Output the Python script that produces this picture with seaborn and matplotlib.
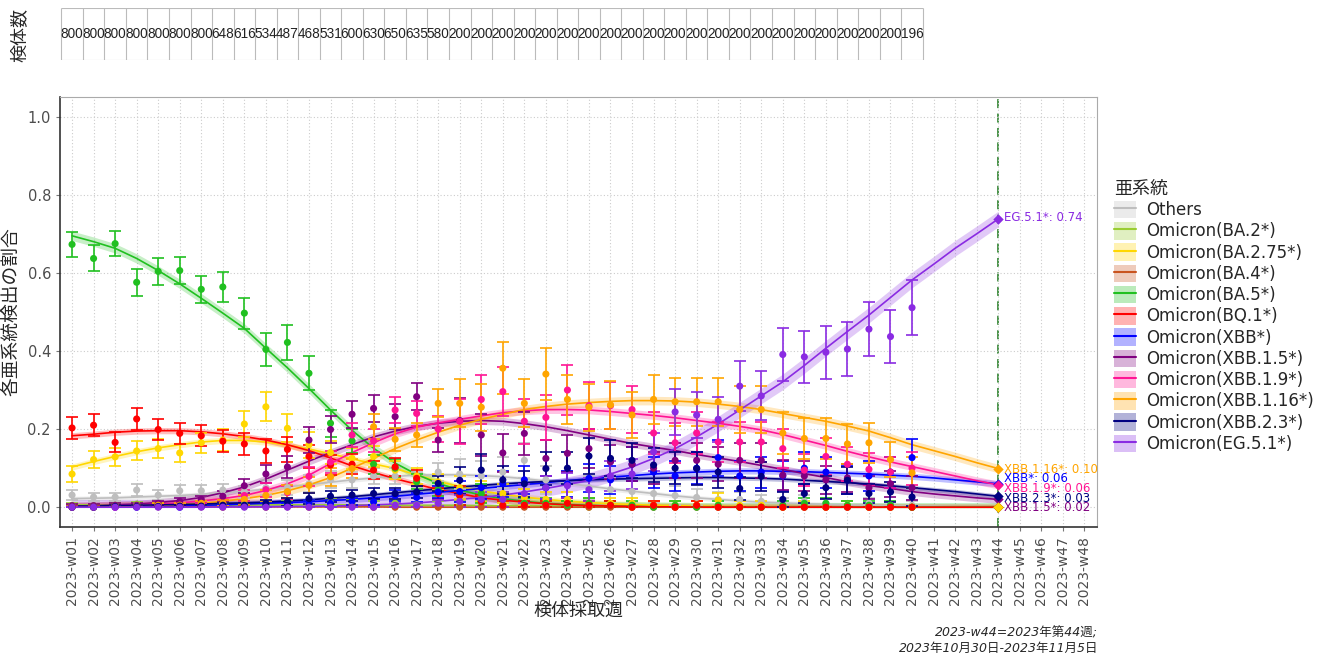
import numpy as np
import pandas as pd
import matplotlib
matplotlib.use('Agg')
import matplotlib.pyplot as plt
from matplotlib.patches import Patch
from matplotlib.lines import Line2D
import seaborn as sns

sns.set_style('white')
plt.rcParams['font.family'] = ['DejaVu Sans', 'Noto Sans CJK JP']

# --- data ---------------------------------------------------------------
week_labels = ['2023-w%02d' % i for i in range(1, 49)]

n_samples = [800, 800, 800, 800, 800, 800, 800, 648, 616, 534, 487, 468, 531, 600,
             630, 650, 635, 580, 200, 200, 200, 200, 200, 200, 200, 200, 200, 200,
             200, 200, 200, 200, 200, 200, 200, 200, 200, 200, 200, 196]

lineages = ['Others', 'Omicron(BA.2*)', 'Omicron(BA.2.75*)', 'Omicron(BA.4*)',
            'Omicron(BA.5*)', 'Omicron(BQ.1*)', 'Omicron(XBB*)', 'Omicron(XBB.1.5*)',
            'Omicron(XBB.1.9*)', 'Omicron(XBB.1.16*)', 'Omicron(XBB.2.3*)', 'Omicron(EG.5.1*)']

# observed weekly proportions (w01-w40)
others_pts = [0.031, 0.026, 0.026, 0.044, 0.031, 0.042, 0.042, 0.044, 0.040, 0.050,
              0.050, 0.060, 0.070, 0.070, 0.080, 0.080, 0.070, 0.090, 0.085, 0.080,
              0.090, 0.120, 0.070, 0.060, 0.050, 0.045, 0.040, 0.035, 0.030, 0.025,
              0.020, 0.020, 0.015, 0.010, 0.015, 0.010, 0.005, 0.010, 0.005, 0.005]
ba2_pts = [0.005, 0.004, 0.005, 0.008, 0.006, 0.004, 0.005, 0.005, 0.008, 0.006,
           0.010, 0.009, 0.012, 0.010, 0.008, 0.010, 0.006, 0.008, 0.005, 0.005,
           0.005, 0.010, 0.005, 0.005, 0.000, 0.005, 0.000, 0.005, 0.000, 0.005,
           0.000, 0.000, 0.000, 0.000, 0.000, 0.000, 0.000, 0.000, 0.000, 0.000]
ba275_pts = [0.085, 0.122, 0.129, 0.144, 0.150, 0.139, 0.165, 0.172, 0.213, 0.257,
             0.202, 0.160, 0.140, 0.125, 0.130, 0.095, 0.080, 0.065, 0.050, 0.040,
             0.035, 0.025, 0.020, 0.020, 0.010, 0.010, 0.010, 0.005, 0.005, 0.005,
             0.018, 0.005, 0.005, 0.000, 0.005, 0.000, 0.005, 0.000, 0.000, 0.000]
ba4_pts = [0.002, 0.001, 0.002, 0.001, 0.001, 0.002, 0.001, 0.000, 0.002, 0.000,
           0.001, 0.000, 0.000, 0.002, 0.000, 0.000, 0.000, 0.000, 0.000, 0.000,
           0.000, 0.000, 0.000, 0.000, 0.000, 0.000, 0.000, 0.000, 0.000, 0.000,
           0.000, 0.000, 0.000, 0.000, 0.000, 0.000, 0.000, 0.000, 0.000, 0.000]
ba5_pts = [0.673, 0.637, 0.675, 0.576, 0.604, 0.606, 0.558, 0.564, 0.497, 0.404,
           0.422, 0.343, 0.215, 0.170, 0.110, 0.100, 0.065, 0.045, 0.030, 0.035,
           0.020, 0.010, 0.010, 0.005, 0.010, 0.005, 0.005, 0.000, 0.005, 0.000,
           0.005, 0.000, 0.000, 0.005, 0.010, 0.010, 0.005, 0.005, 0.005, 0.000]
bq1_pts = [0.203, 0.210, 0.166, 0.226, 0.199, 0.189, 0.183, 0.169, 0.162, 0.144,
           0.148, 0.130, 0.108, 0.110, 0.095, 0.103, 0.074, 0.035, 0.030, 0.014,
           0.005, 0.005, 0.005, 0.010, 0.005, 0.005, 0.000, 0.005, 0.000, 0.005,
           0.000, 0.000, 0.000, 0.000, 0.000, 0.000, 0.000, 0.000, 0.000, 0.000]
xbb_pts = [0.000, 0.000, 0.000, 0.000, 0.002, 0.000, 0.002, 0.002, 0.003, 0.005,
           0.005, 0.010, 0.010, 0.015, 0.014, 0.030, 0.025, 0.039, 0.040, 0.050,
           0.060, 0.070, 0.050, 0.060, 0.074, 0.070, 0.110, 0.090, 0.080, 0.100,
           0.127, 0.080, 0.090, 0.080, 0.100, 0.090, 0.070, 0.080, 0.090, 0.127]
xbb15_pts = [0.004, 0.004, 0.005, 0.005, 0.010, 0.015, 0.020, 0.028, 0.055, 0.085,
             0.103, 0.172, 0.199, 0.238, 0.253, 0.232, 0.283, 0.172, 0.222, 0.185,
             0.139, 0.189, 0.125, 0.138, 0.150, 0.116, 0.110, 0.100, 0.120, 0.120,
             0.110, 0.120, 0.120, 0.082, 0.080, 0.070, 0.075, 0.050, 0.060, 0.050]
xbb19_pts = [0.000, 0.000, 0.000, 0.002, 0.002, 0.005, 0.005, 0.010, 0.030, 0.045,
             0.037, 0.079, 0.116, 0.185, 0.170, 0.249, 0.240, 0.200, 0.220, 0.276,
             0.296, 0.220, 0.230, 0.300, 0.260, 0.260, 0.250, 0.190, 0.165, 0.190,
             0.167, 0.167, 0.167, 0.150, 0.095, 0.130, 0.110, 0.097, 0.090, 0.100]
xbb116_pts = [0.000, 0.000, 0.002, 0.002, 0.005, 0.005, 0.010, 0.010, 0.020, 0.030,
              0.040, 0.056, 0.078, 0.099, 0.206, 0.174, 0.185, 0.266, 0.266, 0.256,
              0.356, 0.266, 0.341, 0.276, 0.256, 0.262, 0.236, 0.276, 0.270, 0.270,
              0.270, 0.250, 0.250, 0.190, 0.176, 0.176, 0.162, 0.165, 0.122, 0.088]
xbb23_pts = [0.000, 0.000, 0.002, 0.002, 0.002, 0.003, 0.003, 0.005, 0.005, 0.010,
             0.014, 0.022, 0.028, 0.031, 0.035, 0.035, 0.039, 0.061, 0.069, 0.095,
             0.070, 0.060, 0.099, 0.100, 0.131, 0.125, 0.120, 0.108, 0.100, 0.099,
             0.090, 0.048, 0.079, 0.020, 0.035, 0.050, 0.069, 0.035, 0.039, 0.026]
eg51_pts = [0.000, 0.000, 0.000, 0.000, 0.000, 0.000, 0.000, 0.000, 0.000, 0.000,
            0.000, 0.000, 0.000, 0.000, 0.000, 0.005, 0.005, 0.010, 0.015, 0.020,
            0.020, 0.035, 0.050, 0.055, 0.045, 0.080, 0.085, 0.142, 0.244, 0.236,
            0.225, 0.310, 0.285, 0.391, 0.385, 0.397, 0.405, 0.456, 0.437, 0.511]

# fitted proportions (w01-w44)
others_fit = [0.022, 0.023, 0.024, 0.026, 0.028, 0.030, 0.033, 0.037, 0.041, 0.046,
              0.052, 0.058, 0.064, 0.070, 0.075, 0.079, 0.082, 0.083, 0.083, 0.081,
              0.078, 0.073, 0.067, 0.061, 0.054, 0.047, 0.041, 0.035, 0.029, 0.024,
              0.020, 0.016, 0.013, 0.011, 0.009, 0.007, 0.006, 0.005, 0.004, 0.003,
              0.003, 0.002, 0.002, 0.001]
ba2_fit = [0.006, 0.006, 0.006, 0.006, 0.006, 0.006, 0.006, 0.006, 0.006, 0.006,
           0.006, 0.006, 0.006, 0.006, 0.006, 0.005, 0.005, 0.005, 0.005, 0.004,
           0.004, 0.004, 0.003, 0.003, 0.003, 0.002, 0.002, 0.002, 0.002, 0.001,
           0.001, 0.001, 0.001, 0.001, 0.001, 0.001, 0.000, 0.000, 0.000, 0.000,
           0.000, 0.000, 0.000, 0.000]
ba275_fit = [0.103, 0.117, 0.130, 0.142, 0.152, 0.160, 0.167, 0.171, 0.171, 0.167,
             0.159, 0.149, 0.137, 0.124, 0.111, 0.099, 0.083, 0.066, 0.053, 0.042,
             0.033, 0.026, 0.020, 0.015, 0.012, 0.009, 0.007, 0.005, 0.004, 0.003,
             0.002, 0.002, 0.001, 0.001, 0.001, 0.000, 0.000, 0.000, 0.000, 0.000,
             0.000, 0.000, 0.000, 0.000]
ba4_fit = [0.002, 0.002, 0.002, 0.002, 0.002, 0.002, 0.001, 0.001, 0.001, 0.001,
           0.001, 0.001, 0.001, 0.001, 0.001, 0.000, 0.000, 0.000, 0.000, 0.000,
           0.000, 0.000, 0.000, 0.000, 0.000, 0.000, 0.000, 0.000, 0.000, 0.000,
           0.000, 0.000, 0.000, 0.000, 0.000, 0.000, 0.000, 0.000, 0.000, 0.000,
           0.000, 0.000, 0.000, 0.000]
ba5_fit = [0.695, 0.680, 0.663, 0.637, 0.606, 0.572, 0.535, 0.497, 0.458, 0.407,
           0.357, 0.304, 0.249, 0.197, 0.151, 0.113, 0.084, 0.061, 0.044, 0.031,
           0.022, 0.015, 0.010, 0.007, 0.005, 0.003, 0.002, 0.001, 0.001, 0.000,
           0.000, 0.000, 0.000, 0.000, 0.000, 0.000, 0.000, 0.000, 0.000, 0.000,
           0.000, 0.000, 0.000, 0.000]
bq1_fit = [0.183, 0.187, 0.192, 0.195, 0.196, 0.196, 0.193, 0.188, 0.181, 0.172,
           0.160, 0.145, 0.126, 0.106, 0.089, 0.073, 0.059, 0.045, 0.035, 0.024,
           0.018, 0.013, 0.009, 0.006, 0.004, 0.003, 0.002, 0.001, 0.001, 0.000,
           0.000, 0.000, 0.000, 0.000, 0.000, 0.000, 0.000, 0.000, 0.000, 0.000,
           0.000, 0.000, 0.000, 0.000]
xbb_fit = [0.001, 0.001, 0.002, 0.002, 0.003, 0.004, 0.005, 0.006, 0.008, 0.010,
           0.012, 0.014, 0.017, 0.020, 0.024, 0.028, 0.033, 0.038, 0.043, 0.048,
           0.053, 0.058, 0.063, 0.068, 0.073, 0.077, 0.081, 0.085, 0.088, 0.090,
           0.092, 0.093, 0.093, 0.092, 0.091, 0.089, 0.087, 0.085, 0.082, 0.079,
           0.075, 0.070, 0.065, 0.060]
xbb15_fit = [0.003, 0.004, 0.006, 0.008, 0.012, 0.017, 0.025, 0.037, 0.052, 0.072,
             0.095, 0.118, 0.140, 0.160, 0.180, 0.195, 0.207, 0.215, 0.220, 0.222,
             0.220, 0.214, 0.206, 0.196, 0.185, 0.174, 0.163, 0.154, 0.145, 0.135,
             0.126, 0.117, 0.107, 0.097, 0.086, 0.076, 0.065, 0.056, 0.048, 0.040,
             0.034, 0.029, 0.024, 0.020]
xbb19_fit = [0.002, 0.003, 0.004, 0.005, 0.008, 0.011, 0.016, 0.022, 0.030, 0.043,
             0.060, 0.082, 0.112, 0.140, 0.165, 0.188, 0.205, 0.216, 0.225, 0.234,
             0.242, 0.247, 0.250, 0.250, 0.249, 0.245, 0.240, 0.235, 0.229, 0.222,
             0.215, 0.207, 0.198, 0.186, 0.172, 0.158, 0.143, 0.129, 0.116, 0.104,
             0.092, 0.080, 0.068, 0.057]
xbb116_fit = [0.002, 0.002, 0.003, 0.004, 0.005, 0.007, 0.010, 0.015, 0.022, 0.030,
              0.042, 0.057, 0.076, 0.100, 0.125, 0.150, 0.172, 0.192, 0.210, 0.225,
              0.238, 0.250, 0.258, 0.264, 0.268, 0.271, 0.273, 0.273, 0.272, 0.269,
              0.264, 0.258, 0.250, 0.240, 0.230, 0.220, 0.208, 0.195, 0.178, 0.160,
              0.145, 0.130, 0.114, 0.099]
xbb23_fit = [0.003, 0.003, 0.004, 0.005, 0.006, 0.007, 0.008, 0.010, 0.011, 0.013,
             0.016, 0.019, 0.023, 0.027, 0.032, 0.037, 0.042, 0.047, 0.052, 0.056,
             0.060, 0.063, 0.066, 0.068, 0.070, 0.072, 0.073, 0.074, 0.075, 0.076,
             0.076, 0.075, 0.074, 0.072, 0.069, 0.066, 0.063, 0.059, 0.055, 0.050,
             0.045, 0.040, 0.034, 0.028]
eg51_fit = [0.000, 0.000, 0.000, 0.000, 0.000, 0.000, 0.000, 0.001, 0.001, 0.001,
            0.002, 0.002, 0.003, 0.004, 0.006, 0.008, 0.011, 0.015, 0.020, 0.025,
            0.031, 0.039, 0.048, 0.058, 0.069, 0.085, 0.103, 0.125, 0.150, 0.180,
            0.213, 0.249, 0.285, 0.321, 0.363, 0.407, 0.450, 0.492, 0.537, 0.582,
            0.622, 0.663, 0.700, 0.738]

pts = [others_pts, ba2_pts, ba275_pts, ba4_pts, ba5_pts, bq1_pts, xbb_pts,
       xbb15_pts, xbb19_pts, xbb116_pts, xbb23_pts, eg51_pts]
fits = [others_fit, ba2_fit, ba275_fit, ba4_fit, ba5_fit, bq1_fit, xbb_fit,
        xbb15_fit, xbb19_fit, xbb116_fit, xbb23_fit, eg51_fit]

colors = ['#BEBEBE', '#9ACD32', '#FFD700', '#C9541F', '#20C020', '#FF0000', '#0000FF',
          '#800080', '#FF1493', '#FFA500', '#000080', '#8A2BE2']
band_hw = [0.006, 0.003, 0.008, 0.002, 0.012, 0.008, 0.008, 0.010, 0.010, 0.011, 0.006, 0.020]

# end labels: short name and text y-position
end_labels = {'Omicron(EG.5.1*)': ('EG.5.1*', 0.741),
              'Omicron(XBB.1.16*)': ('XBB.1.16*', 0.097),
              'Omicron(XBB*)': ('XBB*', 0.074),
              'Omicron(XBB.1.9*)': ('XBB.1.9*', 0.047),
              'Omicron(XBB.2.3*)': ('XBB.2.3*', 0.022),
              'Omicron(XBB.1.5*)': ('XBB.1.5*', 0.000)}

for p, f in zip(pts, fits):
    assert len(p) == len(n_samples) and len(f) == 44

palette = dict(zip(lineages, colors))
n_obs = len(n_samples)
n_fit = len(fits[0])

pts_df = pd.DataFrame({'week': np.tile(np.arange(n_obs), len(lineages)),
                       'prop': np.concatenate(pts),
                       'n': np.tile(n_samples, len(lineages)),
                       'lineage': np.repeat(lineages, n_obs)})
fit_df = pd.DataFrame({'week': np.tile(np.arange(n_fit), len(lineages)),
                       'fit': np.concatenate(fits),
                       'lineage': np.repeat(lineages, n_fit)})
# 95% binomial interval
se = np.sqrt(pts_df['prop'] * (1 - pts_df['prop']) / pts_df['n'])
pts_df['lo'] = (pts_df['prop'] - 1.96 * se).clip(lower=0)
pts_df['hi'] = (pts_df['prop'] + 1.96 * se).clip(upper=1)

# --- figure -------------------------------------------------------------
fig = plt.figure(figsize=(13.36, 6.54), dpi=100)
ax = fig.add_axes([0.0449, 0.194, 0.7764, 0.658])
tab = fig.add_axes([0.0449, 0.9083, 0.7764, 0.0795])

xlim = (-0.56, 47.6)

# bands
for name, f, hw in zip(lineages, fits, band_hw):
    f = np.array(f)
    ax.fill_between(np.arange(n_fit), np.clip(f - hw, 0, 1), f + hw,
                    color=palette[name], alpha=0.25, lw=0, zorder=1)

# error bars
for name in lineages:
    d = pts_df[pts_df['lineage'] == name]
    ax.errorbar(d['week'], d['prop'], yerr=[d['prop'] - d['lo'], d['hi'] - d['prop']],
                fmt='none', ecolor=palette[name], elinewidth=1.2, capsize=4.5,
                capthick=1.2, zorder=3)

sns.scatterplot(data=pts_df, x='week', y='prop', hue='lineage', hue_order=lineages,
                palette=palette, s=26, linewidth=0, legend=False, ax=ax, zorder=4)
sns.lineplot(data=fit_df, x='week', y='fit', hue='lineage', hue_order=lineages,
             palette=palette, lw=1.2, legend=False, ax=ax, zorder=2)

# forecast end point
end_idx = n_fit - 1
ax.axvline(end_idx, color='#3A8B3A', ls=(0, (5, 3)), lw=1.3, zorder=0)
draw_order = [l for l in lineages if l != 'Omicron(BA.2.75*)'] + ['Omicron(BA.2.75*)']
for name in draw_order:
    f = fits[lineages.index(name)]
    ax.scatter(end_idx, f[-1], marker='D', s=28, color=palette[name], zorder=6,
               linewidths=0)
for name, (short, ty) in end_labels.items():
    f = fits[lineages.index(name)]
    ax.text(end_idx + 0.25, ty, '%s: %.2f' % (short, f[-1]), color=palette[name],
            fontsize=8.5, va='center', ha='left', zorder=7)

ax.set_xlim(*xlim)
ax.set_ylim(-0.051, 1.051)
ax.set_xticks(np.arange(len(week_labels)))
ax.set_xticklabels(week_labels, rotation=90, fontsize=10, color='#4D4D4D')
ax.set_yticks([0.0, 0.2, 0.4, 0.6, 0.8, 1.0])
ax.set_yticklabels(['0.0', '0.2', '0.4', '0.6', '0.8', '1.0'], fontsize=10.5, color='#4D4D4D')
ax.tick_params(axis='both', length=3, color='#777777', bottom=True, left=True)
ax.grid(True, color='#CCCCCC', ls=(0, (1, 2)), lw=0.8)
ax.set_axisbelow(True)
for s in ax.spines.values():
    s.set_color('#AAAAAA')
    s.set_linewidth(0.8)
ax.spines['left'].set_color('#333333')
ax.spines['bottom'].set_color('#333333')
ax.spines['left'].set_linewidth(1.2)
ax.spines['bottom'].set_linewidth(1.2)
ax.set_xlabel('検体採取週', fontsize=13)
ax.set_ylabel('各亜系統検出の割合', fontsize=13.5)
ax.xaxis.set_label_coords(0.5, -0.173)
ax.yaxis.set_label_coords(-0.038, 0.5)

# sample count strip
tab.set_xlim(*xlim)
tab.set_ylim(0, 1)
tab.axis('off')
tab.vlines(np.arange(n_obs + 1) - 0.5, 0, 1, color='#BBBBBB', lw=0.8)
tab.hlines([0, 1], -0.5, n_obs - 0.5, color='#BBBBBB', lw=0.8)
for i, n in enumerate(n_samples):
    tab.text(i, 0.5, str(n), ha='center', va='center', fontsize=9.8,
             family=['Liberation Sans', 'DejaVu Sans'], color='#222222')
fig.text(20 / 1336, 1 - 35 / 654, '検体数', rotation=90, ha='center', va='center', fontsize=13)

# legend
handles = [(Patch(facecolor=palette[n], alpha=0.3, edgecolor='none'),
            Line2D([], [], color=palette[n], lw=1.5)) for n in lineages]
fig.legend(handles, lineages, title='亜系統', loc='upper left',
           bbox_to_anchor=(1099 / 1336, 1 - 165 / 654), frameon=False,
           fontsize=12, title_fontsize=13, handlelength=1.3, handleheight=1.25,
           labelspacing=0.17, alignment='left', handletextpad=0.6)

fig.text(1098 / 1336, 1 - 627 / 654, '2023-w44=2023年第44週;\n2023年10月30日-2023年11月5日',
         ha='right', va='top', fontsize=9, style='italic', multialignment='right')

fig.savefig('out.png', dpi=100)
